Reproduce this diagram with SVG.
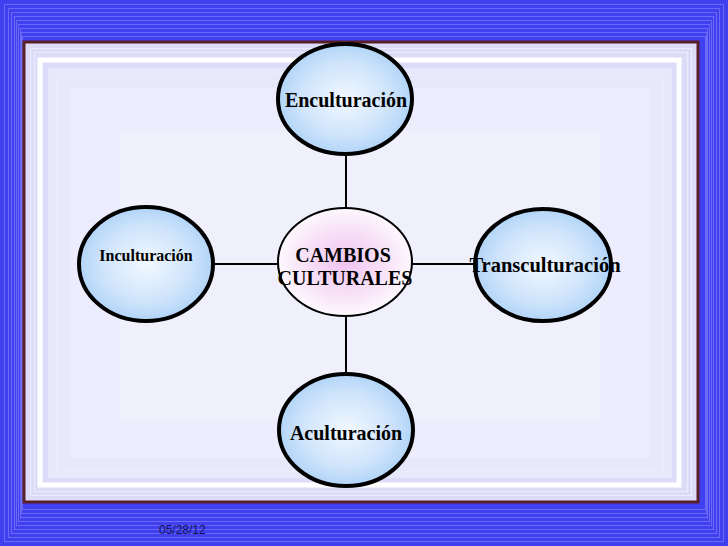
<svg xmlns="http://www.w3.org/2000/svg" width="728" height="546" viewBox="0 0 728 546">
<defs>
<radialGradient id="blueFill" cx="50%" cy="50%" r="55%">
<stop offset="0" stop-color="#f2f8ff"/>
<stop offset="0.6" stop-color="#cfe4fb"/>
<stop offset="1" stop-color="#a9d0f7"/>
</radialGradient>
<radialGradient id="pinkFill" cx="50%" cy="50%" r="55%">
<stop offset="0" stop-color="#f0c4f0"/>
<stop offset="0.6" stop-color="#f8e4f8"/>
<stop offset="1" stop-color="#ffffff"/>
</radialGradient>
<style>
.bg{fill:none;stroke:#6a6af4;stroke-width:1}
.lav{fill:none;stroke:#ececfc;stroke-width:1}
.node{stroke:#000;stroke-width:4}
.lbl{font-family:"Liberation Serif","Times New Roman",serif;font-weight:bold;fill:#000;text-anchor:middle}
.conn{stroke:#000;stroke-width:2;fill:none}
</style>
</defs>
<rect x="0" y="0" width="728" height="546" fill="#4040f0"/>
<g id="bgstripes">
<rect class="bg" x="4.5" y="4.5" width="719" height="537"/>
<rect class="bg" x="8.5" y="8.5" width="711" height="529"/>
<rect class="bg" x="11.5" y="12.5" width="705" height="521"/>
<rect class="bg" x="14.5" y="16.5" width="699" height="513"/>
<rect class="bg" x="16.5" y="20.5" width="695" height="505"/>
<rect class="bg" x="18.5" y="24.5" width="691" height="497"/>
<rect class="bg" x="20.5" y="28.5" width="687" height="489" stroke="#7a7af6"/>
<rect class="bg" x="21.5" y="32.5" width="685" height="481" stroke="#7a7af6"/>
<rect class="bg" x="22.5" y="36.5" width="683" height="473" stroke="#8a8af8"/>
</g>
<rect x="24" y="42" width="674" height="460" fill="#dcdcf8" stroke="#5a1e28" stroke-width="3"/>
<g id="lavstripes">
<rect class="lav" x="30.5" y="48.5" width="661" height="447"/>
<rect class="lav" x="34.5" y="52.5" width="653" height="439"/>
<rect x="48" y="68" width="624" height="410" fill="#e8e8fb"/>
<rect class="lav" x="56.5" y="74.5" width="607" height="397"/>
<rect x="70" y="88" width="580" height="370" fill="#ececfc"/>
<rect class="lav" x="90.5" y="104.5" width="541" height="337" stroke="#f2f2fd"/>
<rect x="120" y="130" width="480" height="290" fill="#f0f0fd"/>
</g>
<rect x="40" y="60" width="639" height="425" fill="none" stroke="#ffffff" stroke-width="5"/>
<g id="connectors">
<line class="conn" x1="346" y1="153" x2="346" y2="209"/>
<line class="conn" x1="346" y1="316" x2="346" y2="374"/>
<line class="conn" x1="213" y1="264" x2="279" y2="264"/>
<line class="conn" x1="412" y1="264" x2="476" y2="264"/>
</g>
<g id="enculturacion">
<ellipse class="node" cx="345" cy="99" rx="67" ry="55" fill="url(#blueFill)"/>
<text class="lbl" x="346" y="107" font-size="20">Enculturación</text>
</g>
<g id="inculturacion">
<ellipse class="node" cx="146" cy="264" rx="67" ry="57" fill="url(#blueFill)"/>
<text class="lbl" x="146" y="261" font-size="16">Inculturación</text>
</g>
<g id="cambios">
<ellipse cx="345" cy="262" rx="67" ry="54" fill="url(#pinkFill)" stroke="#000" stroke-width="2"/>
<text class="lbl" x="343" y="262" font-size="20">CAMBIOS</text>
<text class="lbl" x="345" y="285" font-size="20">CULTURALES</text>
</g>
<g id="transculturacion">
<ellipse class="node" cx="543" cy="265" rx="68" ry="56" fill="url(#blueFill)"/>
<text class="lbl" x="545" y="272" font-size="20.5">Transculturación</text>
</g>
<g id="aculturacion">
<ellipse class="node" cx="346" cy="430" rx="67" ry="56" fill="url(#blueFill)"/>
<text class="lbl" x="346" y="440" font-size="20">Aculturación</text>
</g>
<text x="159" y="534" font-family="Liberation Sans, Arial, sans-serif" font-size="12" fill="#14145a">05/28/12</text>
</svg>
